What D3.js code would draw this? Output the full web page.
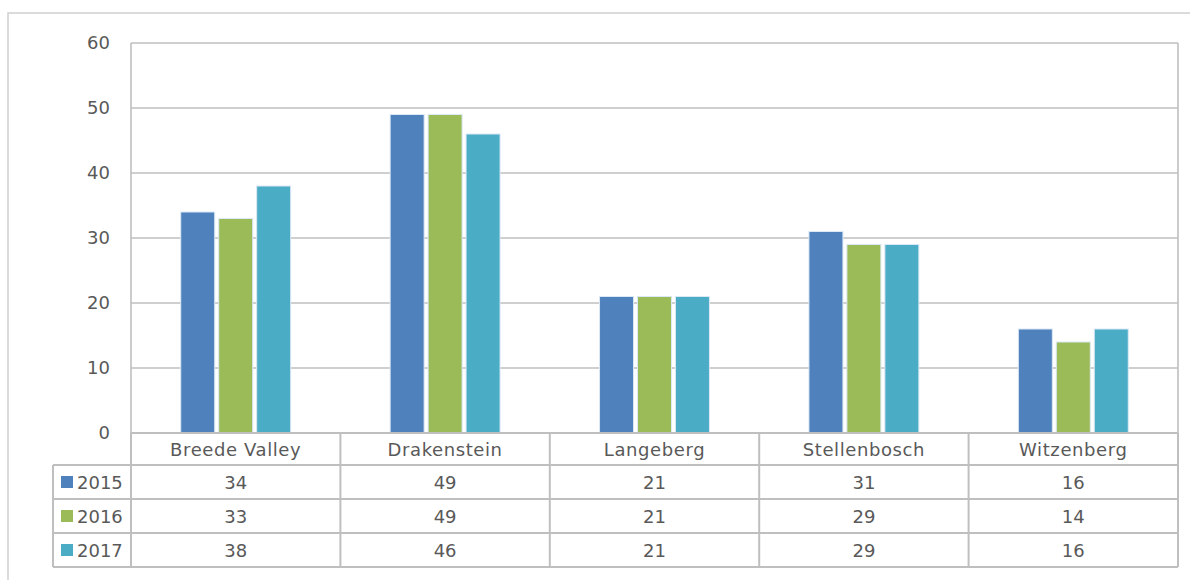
<!DOCTYPE html>
<html>
<head>
<meta charset="utf-8">
<script src="https://cdn.jsdelivr.net/npm/d3@7"></script>
<style>
  html, body { margin: 0; padding: 0; background: #fff; }
  svg { display: block; }
  text { font-family: "DejaVu Sans", sans-serif; fill: #595959; }
</style>
</head>
<body>
<svg id="chart" width="1190" height="580"></svg>
<script>
// Municipalities and yearly values
const categories = ["Breede Valley", "Drakenstein", "Langeberg", "Stellenbosch", "Witzenberg"];
const years = ["2015", "2016", "2017"];
const values2015 = [34, 49, 21, 31, 16];
const values2016 = [33, 49, 21, 29, 14];
const values2017 = [38, 46, 21, 29, 16];
const yTicks = [0, 10, 20, 30, 40, 50, 60];
const colors = ["#4f81bd", "#9bbb59", "#4bacc6"];

const seriesValues = [values2015, values2016, values2017];

const svg = d3.select("#chart");
const gridColor = "#bfbfbf";
const fontSize = "18px";

// Plot area geometry
const plotLeft = 131, plotRight = 1178, plotTop = 43, plotBottom = 433;
const rowBottoms = [465, 499, 533, 567]; // category row, then 3 series rows
const legendLeft = 53;

// Chart area frame
svg.append("rect")
  .attr("x", 8).attr("y", 13)
  .attr("width", 1200).attr("height", 600)
  .attr("fill", "none").attr("stroke", "#d0d0d0").attr("stroke-width", 1.5);

const y = d3.scaleLinear().domain([0, 60]).range([plotBottom, plotTop]);
const x0 = d3.scaleBand().domain(categories).range([plotLeft, plotRight]).padding(0);
const x1 = d3.scaleBand().domain(years).range([0, x0.bandwidth()])
  .paddingInner(0.105).paddingOuter(1.31);

// Y labels
const yAxis = d3.axisLeft(y).tickValues(yTicks).tickSize(0).tickPadding(21);
const ga = svg.append("g").attr("transform", `translate(${plotLeft},0)`).call(yAxis);
ga.select(".domain").remove();
ga.selectAll("text").style("font-size", fontSize).attr("fill", "#595959")
  .style("font-family", "'DejaVu Sans', sans-serif");

// Gridlines
svg.append("g").selectAll("line").data(yTicks).join("line")
  .attr("x1", plotLeft).attr("x2", plotRight)
  .attr("y1", d => y(d)).attr("y2", d => y(d))
  .attr("stroke", gridColor).attr("stroke-width", 1.6);

// Plot area sides
[plotLeft, plotRight].forEach(xx => {
  svg.append("line").attr("x1", xx).attr("x2", xx).attr("y1", plotTop).attr("y2", plotBottom)
    .attr("stroke", gridColor).attr("stroke-width", 1.6);
});

// Bars
const groups = svg.append("g").selectAll("g").data(categories).join("g")
  .attr("transform", d => `translate(${x0(d)},0)`);
groups.selectAll("rect")
  .data((c, i) => years.map((yr, k) => ({ yr, v: seriesValues[k][i], k })))
  .join("rect")
  .attr("x", d => x1(d.yr))
  .attr("width", x1.bandwidth())
  .attr("y", d => y(d.v))
  .attr("height", d => y(0) - y(d.v))
  .attr("fill", d => colors[d.k])
  .attr("stroke", "#dbe8f5").attr("stroke-width", 1);

// Data table
const tbl = svg.append("g");
const lineStyle = sel => sel.attr("stroke", gridColor).attr("stroke-width", 2);

tbl.append("line").attr("x1", plotLeft).attr("x2", plotRight)
  .attr("y1", plotBottom).attr("y2", plotBottom).call(lineStyle);
rowBottoms.forEach(yy => {
  tbl.append("line").attr("x1", legendLeft).attr("x2", plotRight)
    .attr("y1", yy).attr("y2", yy).call(lineStyle);
});
const colEdges = categories.map(c => x0(c)).concat([plotRight]);
colEdges.forEach(xx => {
  tbl.append("line").attr("x1", xx).attr("x2", xx)
    .attr("y1", plotBottom).attr("y2", rowBottoms[3]).call(lineStyle);
});
tbl.append("line").attr("x1", legendLeft).attr("x2", legendLeft)
  .attr("y1", rowBottoms[0]).attr("y2", rowBottoms[3]).call(lineStyle);

// Category headers
tbl.selectAll("text.cat").data(categories).join("text").attr("class", "cat")
  .attr("x", d => x0(d) + x0.bandwidth() / 2)
  .attr("y", (plotBottom + rowBottoms[0]) / 2 + 6.5)
  .attr("text-anchor", "middle").style("font-size", fontSize)
  .style("letter-spacing", "0.6px")
  .text(d => d);

// Series rows with legend keys
years.forEach((yr, k) => {
  const cy = (rowBottoms[k] + rowBottoms[k + 1]) / 2;
  tbl.append("rect").attr("x", 61).attr("y", cy - 6).attr("width", 12).attr("height", 12)
    .attr("fill", colors[k]);
  tbl.append("text").attr("x", 77).attr("y", cy + 6.5).style("font-size", fontSize).text(yr);
  tbl.selectAll(null).data(categories).join("text")
    .attr("x", d => x0(d) + x0.bandwidth() / 2)
    .attr("y", cy + 6.5)
    .attr("text-anchor", "middle").style("font-size", fontSize)
    .text((d, i) => seriesValues[k][i]);
});
</script>
</body>
</html>
